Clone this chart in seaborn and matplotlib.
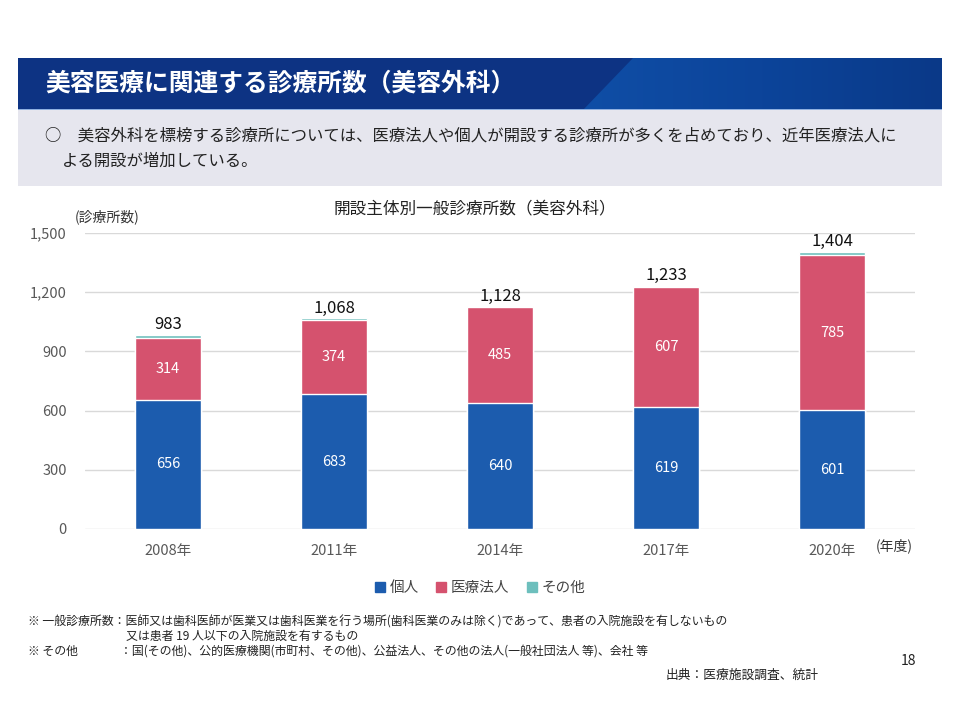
import matplotlib
matplotlib.use("Agg")
import matplotlib.pyplot as plt
from matplotlib.patches import Rectangle, Polygon, Patch
from matplotlib.colors import LinearSegmentedColormap
import seaborn as sns
import pandas as pd
import numpy as np

years = ["2008年", "2011年", "2014年", "2017年", "2020年"]
kojin = [656, 683, 640, 619, 601]
iryo = [314, 374, 485, 607, 785]
sonota = [13, 11, 3, 7, 18]
totals = [983, 1068, 1128, 1233, 1404]
yticks = [0, 300, 600, 900, 1200, 1500]
series_names = ["個人", "医療法人", "その他"]

C_BLUE = "#1c5cae"
C_RED = "#d5526e"
C_TEAL = "#6dbfbd"

sns.set_theme(style="white")
plt.rcParams['font.family'] = ['Noto Sans CJK JP', 'DejaVu Sans']

W, H = 960, 720
fig = plt.figure(figsize=(9.6, 7.2), dpi=100)

# background (pixel coordinates)
bg = fig.add_axes([0, 0, 1, 1], zorder=-1)
bg.set_xlim(0, W)
bg.set_ylim(H, 0)
bg.axis("off")
bg.add_patch(Rectangle((18, 58), 924, 52, color="#0d3383", lw=0))
poly = Polygon([(583, 110), (633, 58), (942, 58), (942, 110)], closed=True,
               facecolor="none", lw=0)
bg.add_patch(poly)
grad_cmap = LinearSegmentedColormap.from_list("hdr", ["#0f4ea6", "#0c449a", "#0a3988"])
grad = np.linspace(0, 1, 256).reshape(1, -1)
im = bg.imshow(grad, cmap=grad_cmap, extent=(583, 942, 110, 58), aspect="auto",
               interpolation="bilinear", zorder=1)
im.set_clip_path(poly)
bg.add_patch(Rectangle((18, 108.5), 924, 1.5, color="#8fb0e0", lw=0, zorder=2))
bg.add_patch(Rectangle((18, 110), 924, 76, color="#e6e6ee", lw=0))
bg.text(45, 84, "美容医療に関連する診療所数（美容外科）", color="white", fontsize=17.8,
        fontweight="bold", va="center", ha="left", zorder=3)
bg.text(45, 136, "○　美容外科を標榜する診療所については、医療法人や個人が開設する診療所が多くを占めており、近年医療法人に",
        color="#222222", fontsize=11.8, va="center", ha="left")
bg.text(62, 161, "よる開設が増加している。", color="#222222", fontsize=11.8, va="center", ha="left")
bg.text(475, 209, "開設主体別一般診療所数（美容外科）", color="#222222", fontsize=12,
        va="center", ha="center")
bg.text(75, 217, "(診療所数)", color="#333333", fontsize=10, va="center", ha="left")
bg.text(876, 546, "(年度)", color="#333333", fontsize=10, va="center", ha="left")

fn = 8.6
bg.text(28, 622, "※ 一般診療所数：医師又は歯科医師が医業又は歯科医業を行う場所(歯科医業のみは除く)であって、患者の入院施設を有しないもの",
        fontsize=fn, color="#222222", va="center", ha="left")
bg.text(126, 636, "又は患者 19 人以下の入院施設を有するもの", fontsize=fn, color="#222222",
        va="center", ha="left")
bg.text(28, 651, "※ その他", fontsize=fn, color="#222222", va="center", ha="left")
bg.text(120, 651, "：国(その他)、公的医療機関(市町村、その他)、公益法人、その他の法人(一般社団法人 等)、会社 等",
        fontsize=fn, color="#222222", va="center", ha="left")
bg.text(916, 661, "18", fontsize=10, color="#222222", va="center", ha="right")
bg.text(666, 675, "出典：医療施設調査、統計", fontsize=9.2, color="#222222",
        va="center", ha="left")

# chart axes
x0, x1 = 85, 915
y0, y1 = 529, 233
ax = fig.add_axes([x0 / W, 1 - y0 / H, (x1 - x0) / W, (y0 - y1) / H])

df = pd.DataFrame({"year": years, "個人": kojin, "医療法人": iryo, "その他": sonota})
df["top"] = df["個人"] + df["医療法人"] + df["その他"]
df["mid"] = df["個人"] + df["医療法人"]

sns.barplot(data=df, x="year", y="top", color=C_TEAL, width=0.4, saturation=1,
            ax=ax, zorder=2)
sns.barplot(data=df, x="year", y="mid", color=C_RED, width=0.4, saturation=1,
            ax=ax, zorder=3)
sns.barplot(data=df, x="year", y="個人", color=C_BLUE, width=0.4, saturation=1,
            ax=ax, zorder=4)

ax.set_xlim(-0.5, 4.5)
ax.set_ylim(0, 1500)
ax.set_yticks(yticks)
ax.set_yticklabels([f"{v:,}" for v in yticks])
ax.set_xlabel("")
ax.set_ylabel("")
ax.grid(axis="y", color="#d9d9d9", lw=1, zorder=0)
ax.set_axisbelow(True)
for s in ax.spines.values():
    s.set_visible(False)
ax.tick_params(axis="y", length=0, pad=13, labelsize=10.5, labelcolor="#595959")
ax.tick_params(axis="x", length=0, pad=11, labelsize=10.5, labelcolor="#595959")
ax.patch.set_alpha(0)

for i in range(len(years)):
    ax.text(i, kojin[i] / 2, f"{kojin[i]}", color="white", fontsize=10.5,
            ha="center", va="center", zorder=5)
    ax.text(i, kojin[i] + iryo[i] / 2, f"{iryo[i]}", color="white", fontsize=10.5,
            ha="center", va="center", zorder=5)
    ax.text(i, totals[i] + 8, f"{totals[i]:,}", color="#111111", fontsize=12,
            ha="center", va="bottom", zorder=5)

handles = [Patch(color=C_BLUE), Patch(color=C_RED), Patch(color=C_TEAL)]
fig.legend(handles, series_names, loc="center", bbox_to_anchor=(480 / W, 1 - 588 / H),
           ncol=3, frameon=False, fontsize=10.5, handlelength=0.7, handleheight=0.7,
           handletextpad=0.3, columnspacing=1.2, labelcolor="#444444")

fig.savefig("out.png", dpi=100)
